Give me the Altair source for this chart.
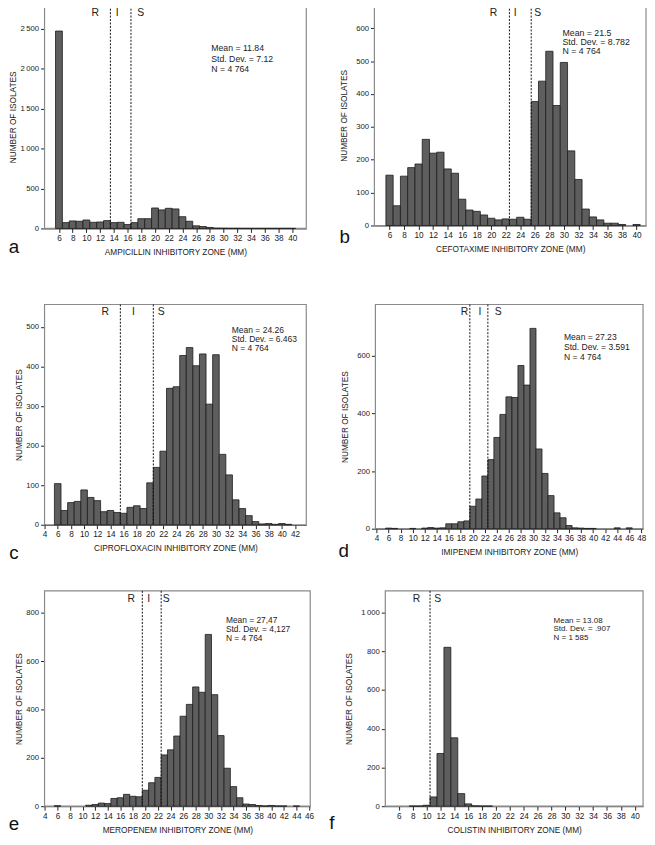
import altair as alt
import pandas as pd

# ---------------- data ----------------
A_ZONE = list(range(6, 41))
A_COUNT = [2470, 73, 94, 90, 106, 77, 81, 98, 73, 77, 49, 73, 122, 122, 256, 232, 252, 244,
           147, 90, 33, 24, 12, 4, 3, 2, 2, 1, 1, 1, 1, 1, 1, 1, 1]

B_ZONE = list(range(6, 41))
B_COUNT = [153, 60, 150, 176, 187, 262, 220, 223, 172, 159, 80, 47, 43, 32, 22, 17, 20, 19,
           25, 19, 377, 439, 530, 365, 496, 227, 140, 50, 26, 17, 7, 7, 3, 0, 3]

C_ZONE = list(range(6, 43))
C_COUNT = [104, 36, 56, 59, 88, 69, 61, 33, 36, 31, 29, 44, 48, 41, 106, 145, 186, 345, 349,
           428, 448, 402, 432, 305, 430, 178, 126, 63, 41, 23, 8, 2, 3, 1, 3, 1, 0]

D_ZONE = list(range(6, 47))
D_COUNT = [2, 1, 0, 0, 1, 0, 2, 4, 2, 3, 17, 17, 24, 27, 78, 103, 183, 240, 317, 397, 458,
           456, 567, 499, 696, 277, 192, 115, 55, 38, 11, 3, 2, 1, 1, 0, 0, 0, 3, 0, 3]

E_ZONE = list(range(6, 45))
E_COUNT = [2, 0, 0, 0, 0, 4, 7, 13, 11, 32, 35, 49, 41, 39, 66, 97, 119, 212, 233, 290, 372,
           421, 493, 471, 710, 461, 292, 157, 81, 35, 9, 7, 3, 1, 3, 1, 1, 0, 1]

F_ZONE = list(range(8, 20))
F_COUNT = [1, 1, 5, 48, 272, 820, 353, 65, 12, 2, 1, 1]

TITLES = ["AMPICILLIN INHIBITORY ZONE (MM)", "CEFOTAXIME INHIBITORY ZONE (MM)",
          "CIPROFLOXACIN INHIBITORY ZONE (MM)", "IMIPENEM INHIBITORY ZONE (MM)",
          "MEROPENEM INHIBITORY ZONE (MM)", "COLISTIN INHIBITORY ZONE (MM)"]
LETTERS = ["a", "b", "c", "d", "e", "f"]
STATS = [
    "Mean = 11.84\nStd. Dev. = 7.12\nN = 4 764",
    "Mean = 21.5\nStd. Dev. = 8.782\nN = 4 764",
    "Mean = 24.26\nStd. Dev. = 6.463\nN = 4 764",
    "Mean = 27.23\nStd. Dev. = 3.591\nN = 4 764",
    "Mean = 27,47\nStd. Dev. = 4,127\nN = 4 764",
    "Mean = 13.08\nStd. Dev. = .907\nN = 1 585",
]
# breakpoints (dotted lines) and R / I / S label positions, in mm
BREAKS = [[13.5, 16.5], [22.5, 25.5], [15.5, 20.5], [19.5, 22.5], [19.5, 22.5], [10.5]]
RIS_TEXT = [["R", "I", "S"]] * 5 + [["R", "S"]]
RIS_X = [[11.3, 14.5, 17.9], [20.3, 23.3, 26.4], [13.2, 17.5, 21.7],
         [18.6, 21.2, 24.2], [17.75, 20.5, 23.3], [8.56, 11.6]]
# stats block anchor (mm, count)
STATS_X = [28.2, 29.8, 32.4, 35.15, 32.8, 28.3]
STATS_Y = [2305, 597, 502, 680, 786, 975]

X_DOM = [[3.9, 42.05], [3.92, 41.3], [4.0, 43.7], [3.8, 48.3], [3.95, 46.2], [4.05, 41.2]]
Y_DOM = [2793, 670, 557, 779, 890, 1111]
X_TICKS = [list(range(6, 41, 2)), list(range(6, 41, 2)), list(range(4, 43, 2)),
           list(range(4, 49, 2)), list(range(4, 47, 2)), list(range(6, 41, 2))]
Y_TICKS = [list(range(0, 2501, 500)), list(range(0, 601, 100)), list(range(0, 501, 100)),
           list(range(0, 601, 200)), list(range(0, 801, 200)), list(range(0, 1001, 200))]

# layout (px)
WIDTHS = [265, 275, 265, 271, 269, 261]
HEIGHTS = [226, 223, 223, 227, 218, 218]
LETTER_POS = [(-31, 19), (-30, 12), (-31, 29), (-32, 23), (-31, 18), (-54, 17)]
Y_TITLE_PAD = [2, 7, 2, 7, 2, 7]
LINE_H = [10.5, 9.2, 9.2, 10, 9, 8.4]
STAT_FS = [8.8, 8.9, 8.6, 8.7, 8.5, 8.1]

FONT = "Liberation Sans, Arial, sans-serif"
BAR_FILL = "#5e5e5e"
BAR_STROKE = "#1c1c1c"
FRAME = "#8a8a8a"


def panel(i, zone, count):
    df = pd.DataFrame({"zone": zone, "count": count})
    df = df[df["count"] > 0].copy()
    df["x0"] = df["zone"] - 0.5
    df["x1"] = df["zone"] + 0.5
    df["base"] = 0

    xs = alt.Scale(domain=X_DOM[i], nice=False, zero=False)
    ys = alt.Scale(domain=[0, Y_DOM[i]], nice=False)
    xaxis = alt.Axis(values=X_TICKS[i], title=TITLES[i], tickSize=4, labelPadding=1,
                     titlePadding=6, labelFontSize=8.3, titleFontSize=8.4,
                     titleFontWeight="normal", grid=False, labelFlush=False)
    yaxis = alt.Axis(values=Y_TICKS[i], title="NUMBER OF ISOLATES", tickSize=4,
                     labelPadding=2, titlePadding=Y_TITLE_PAD[i], labelFontSize=7.8,
                     titleFontSize=8.4, titleFontWeight="normal", grid=False,
                     labelExpr="replace(format(datum.value, ','), ',', '\u2009')")
    X = alt.X("x0:Q", scale=xs, axis=xaxis)
    Y = alt.Y("count:Q", scale=ys, axis=yaxis)

    frame = alt.Chart(pd.DataFrame({"k": [0]})).mark_rect(
        fill="white", stroke=FRAME, strokeWidth=1.2).encode(
        x=alt.value(0), x2=alt.value(WIDTHS[i]), y=alt.value(0), y2=alt.value(HEIGHTS[i]))

    bars = alt.Chart(df).mark_bar(fill=BAR_FILL, stroke=BAR_STROKE, strokeWidth=0.8).encode(
        x=X, x2="x1:Q", y=Y, y2="base:Q")

    rules = alt.Chart(pd.DataFrame({"x0": BREAKS[i]})).mark_rule(
        color="#111", strokeWidth=1, strokeDash=[2, 1.5]).encode(x=X)

    ris = alt.Chart(pd.DataFrame({"x0": RIS_X[i], "t": RIS_TEXT[i]})).mark_text(
        fontSize=10.5, font=FONT, color="#222", align="center", baseline="middle").encode(
        x=X, y=alt.value(8), text="t:N")

    stats = alt.Chart(pd.DataFrame({"x0": [STATS_X[i]], "count": [STATS_Y[i]],
                                    "t": [STATS[i]]})).mark_text(
        fontSize=STAT_FS[i], font=FONT, color="#222", align="left", baseline="top",
        lineBreak="\n", lineHeight=LINE_H[i]).encode(x=X, y=Y, text="t:N")

    lx, ly = LETTER_POS[i]
    letter = alt.Chart(pd.DataFrame({"t": [LETTERS[i]]})).mark_text(
        fontSize=19, font=FONT, color="#111",
        align="center", baseline="middle").encode(
        x=alt.value(lx), y=alt.value(HEIGHTS[i] + ly), text="t:N")

    return alt.layer(frame, bars, rules, ris, stats, letter).properties(
        width=WIDTHS[i], height=HEIGHTS[i])


pa = panel(0, A_ZONE, A_COUNT)
pb = panel(1, B_ZONE, B_COUNT)
pc = panel(2, C_ZONE, C_COUNT)
pd_ = panel(3, D_ZONE, D_COUNT)
pe = panel(4, E_ZONE, E_COUNT)
pf = panel(5, F_ZONE, F_COUNT)

row1 = alt.hconcat(pa, pb, spacing=69, bounds="flush")
row2 = alt.hconcat(pc, pd_, spacing=70, bounds="flush")
row3 = alt.hconcat(pe, pf, spacing=76, bounds="flush")

top = alt.vconcat(row1, row2, spacing=47)
chart = alt.vconcat(top, row3, spacing=27).properties(
    padding={"top": -9, "left": 0, "right": 0, "bottom": 0}, background="white"
).configure_view(
    stroke=None
).configure_axis(
    domainColor="#222", tickColor="#222", labelColor="#222", titleColor="#222",
    labelFont=FONT, titleFont=FONT, domainWidth=1, tickWidth=1
)

chart.save("out.html", embed_options={"renderer": "svg", "actions": False})
